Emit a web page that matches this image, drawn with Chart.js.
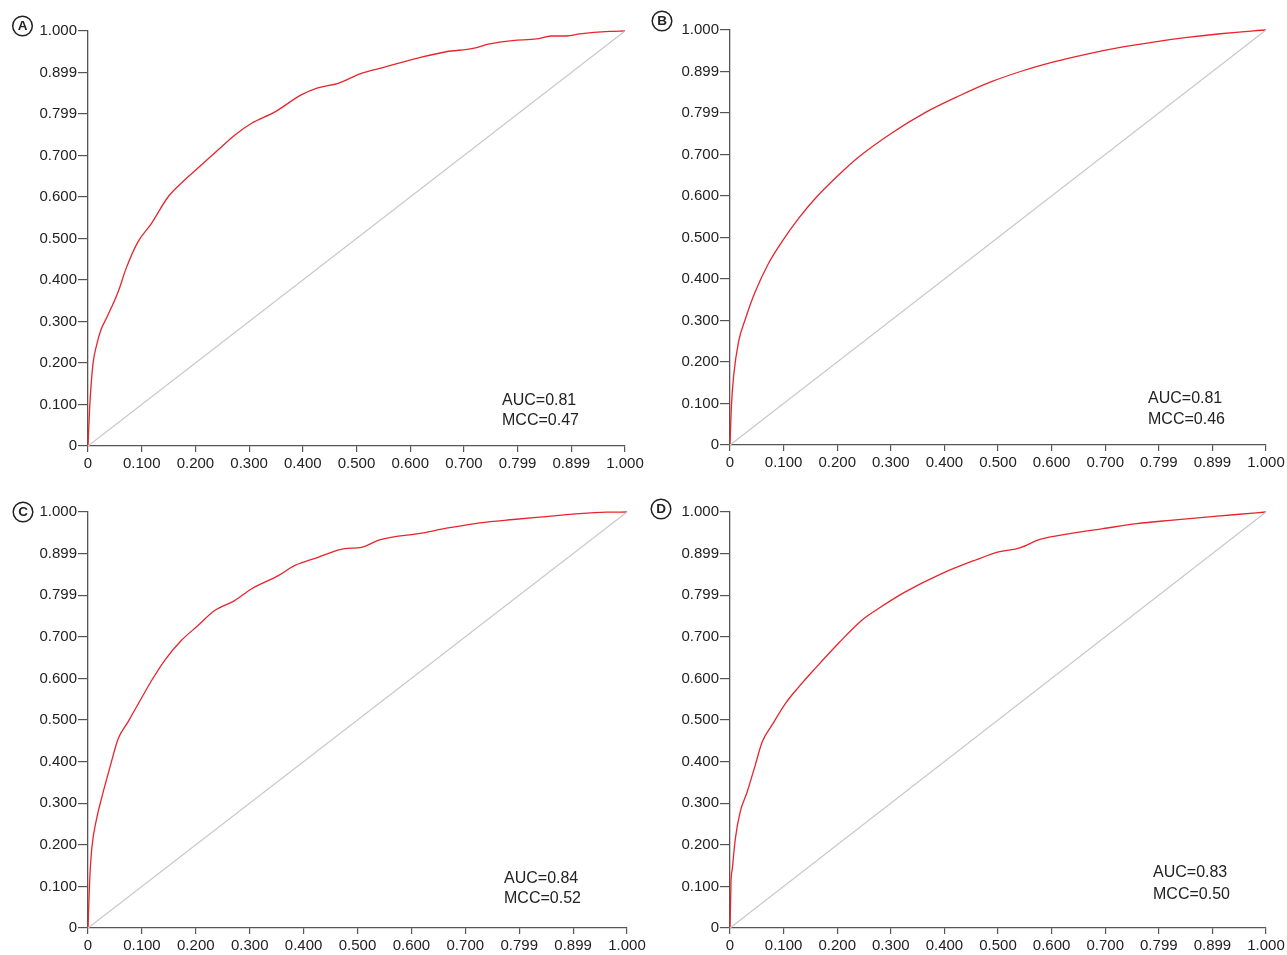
<!DOCTYPE html>
<html>
<head>
<meta charset="utf-8">
<script src="https://cdn.jsdelivr.net/npm/chart.js@4"></script>
<style>
    html, body { margin: 0; padding: 0; background: #fff; overflow: hidden; }
    body { position: relative; width: 1287px; height: 955px; }
    canvas { position: absolute; }
</style>
</head>
<body>
<script>
// tick labels as printed on both axes
const tickLabels = ['0', '0.100', '0.200', '0.300', '0.400', '0.500', '0.600', '0.700', '0.799', '0.899', '1.000'];

// panel A
const fprA = [0, 0.003, 0.009, 0.016, 0.025, 0.034, 0.056, 0.071, 0.093, 0.118, 0.149, 0.180, 0.211, 0.242, 0.273, 0.304, 0.348, 0.397, 0.428, 0.466, 0.509, 0.543, 0.618, 0.667, 0.717, 0.748, 0.791, 0.835, 0.863, 0.891, 0.916, 0.971, 1];
const tprA = [0, 0.090, 0.195, 0.243, 0.283, 0.307, 0.371, 0.428, 0.492, 0.536, 0.600, 0.641, 0.677, 0.713, 0.749, 0.777, 0.805, 0.846, 0.863, 0.874, 0.898, 0.910, 0.936, 0.950, 0.958, 0.969, 0.977, 0.981, 0.988, 0.988, 0.993, 0.999, 1];

// panel B
const fprB = [0, 0.0024, 0.007, 0.016, 0.029, 0.047, 0.072, 0.097, 0.128, 0.159, 0.203, 0.240, 0.302, 0.364, 0.427, 0.489, 0.542, 0.604, 0.666, 0.728, 0.790, 0.853, 0.915, 0.977, 1];
const tprB = [0, 0.088, 0.169, 0.249, 0.305, 0.369, 0.438, 0.490, 0.546, 0.594, 0.651, 0.694, 0.752, 0.801, 0.841, 0.876, 0.900, 0.923, 0.942, 0.958, 0.971, 0.982, 0.991, 0.998, 1];

// panel C
const fprC = [0, 0.003, 0.007, 0.016, 0.025, 0.040, 0.056, 0.074, 0.102, 0.118, 0.142, 0.173, 0.204, 0.235, 0.272, 0.303, 0.353, 0.383, 0.427, 0.476, 0.507, 0.541, 0.622, 0.665, 0.727, 0.789, 0.850, 0.912, 0.962, 1];
const tprC = [0, 0.111, 0.191, 0.263, 0.311, 0.383, 0.455, 0.495, 0.559, 0.595, 0.643, 0.691, 0.727, 0.763, 0.787, 0.815, 0.847, 0.871, 0.891, 0.912, 0.915, 0.933, 0.950, 0.961, 0.974, 0.982, 0.989, 0.996, 0.9995, 1];

// panel D
const fprD = [0, 0.002, 0.004, 0.010, 0.019, 0.032, 0.047, 0.060, 0.078, 0.103, 0.128, 0.159, 0.202, 0.246, 0.277, 0.327, 0.395, 0.457, 0.501, 0.541, 0.578, 0.634, 0.696, 0.759, 0.821, 0.883, 0.945, 1];
const tprD = [0, 0.115, 0.139, 0.215, 0.279, 0.327, 0.391, 0.447, 0.487, 0.539, 0.579, 0.624, 0.684, 0.740, 0.768, 0.808, 0.852, 0.884, 0.904, 0.914, 0.934, 0.948, 0.960, 0.972, 0.980, 0.987, 0.994, 1];

const diagX = [0, 1];
const diagY = [0, 1];

const panelLetters = ['A', 'B', 'C', 'D'];
const aucText = ['AUC=0.81', 'AUC=0.81', 'AUC=0.84', 'AUC=0.83'];
const mccText = ['MCC=0.47', 'MCC=0.46', 'MCC=0.52', 'MCC=0.50'];

const FONT = '"Liberation Sans", Arial, Helvetica, sans-serif';
const TEXT = '#222';
const AXIS = '#555';

// where each plot area sits on the page, plus text offsets
const panels = [
    { fpr: fprA, tpr: tprA, L: 88, T: 31, R: 625, B: 446, lx: 65.5, ly: 5, tx: 123, ay: 45, my: 25 },
    { fpr: fprB, tpr: tprB, L: 730, T: 30, R: 1266, B: 445, lx: 68, ly: 9, tx: 118, ay: 46, my: 25 },
    { fpr: fprC, tpr: tprC, L: 88, T: 512, R: 627, B: 928, lx: 65, ly: 0, tx: 123, ay: 49, my: 29 },
    { fpr: fprD, tpr: tprD, L: 730, T: 512, R: 1266, B: 928, lx: 69, ly: 3, tx: 113, ay: 55, my: 33 }
];

const toPoints = (xs, ys) => xs.map((x, i) => ({ x: x, y: ys[i] }));

const panelText = {
    id: 'panelText',
    afterDraw(chart, args, opts) {
        const ctx = chart.ctx;
        const a = chart.chartArea;
        ctx.save();
        // circled panel letter
        const cx = a.left - opts.lx, cy = a.top - opts.ly;
        ctx.beginPath();
        ctx.arc(cx, cy, 9.8, 0, Math.PI * 2);
        ctx.lineWidth = 1.5;
        ctx.strokeStyle = TEXT;
        ctx.stroke();
        ctx.fillStyle = TEXT;
        ctx.font = 'bold 13.5px ' + FONT;
        ctx.textAlign = 'center';
        ctx.textBaseline = 'middle';
        ctx.fillText(opts.letter, cx, cy + 0.5);
        // AUC / MCC note
        ctx.font = '16px ' + FONT;
        ctx.textAlign = 'left';
        ctx.fillText(opts.auc, a.right - opts.tx, a.bottom - opts.ay);
        ctx.fillText(opts.mcc, a.right - opts.tx, a.bottom - opts.my);
        ctx.restore();
    }
};

function axis(pos, tickLen, pad, fit) {
    return {
        type: 'linear',
        position: pos,
        min: 0,
        max: 1,
        ticks: {
            stepSize: 0.1,
            autoSkip: false,
            maxRotation: 0,
            padding: pad,
            color: TEXT,
            font: { family: FONT, size: 15 },
            callback: v => tickLabels[Math.round(v * 10)]
        },
        grid: { drawOnChartArea: false, drawTicks: true, tickLength: tickLen, color: AXIS, lineWidth: 1.2 },
        border: { display: true, color: AXIS, width: 1.3 },
        afterFit: fit
    };
}

panels.forEach((p, i) => {
    const w = p.R - p.L, h = p.B - p.T;
    const cv = document.createElement('canvas');
    cv.width = w + 88 + 24;
    cv.height = h + 30 + 30;
    cv.style.left = (p.L - 88) + 'px';
    cv.style.top = (p.T - 30) + 'px';
    document.body.appendChild(cv);

    new Chart(cv.getContext('2d'), {
        type: 'scatter',
        data: {
            datasets: [
                {
                    data: toPoints(diagX, diagY),
                    showLine: true,
                    borderColor: '#c9c9c9',
                    borderWidth: 1.2,
                    pointRadius: 0,
                    clip: 4
                },
                {
                    data: toPoints(p.fpr, p.tpr),
                    showLine: true,
                    borderColor: '#e8242c',
                    borderWidth: 1.3,
                    pointRadius: 0,
                    cubicInterpolationMode: 'monotone',
                    clip: 4
                }
            ]
        },
        options: {
            responsive: false,
            animation: false,
            devicePixelRatio: 1,
            layout: { padding: { top: 30, right: 24, left: 0, bottom: 0 } },
            scales: {
                x: axis('bottom', 6, 3, s => { s.height = 30; }),
                y: axis('left', 10, 1, s => { s.width = 88; })
            },
            plugins: {
                legend: { display: false },
                tooltip: { enabled: false },
                panelText: {
                    letter: panelLetters[i], auc: aucText[i], mcc: mccText[i],
                    lx: p.lx, ly: p.ly, tx: p.tx, ay: p.ay, my: p.my
                }
            }
        },
        plugins: [panelText]
    });
});
</script>
</body>
</html>
